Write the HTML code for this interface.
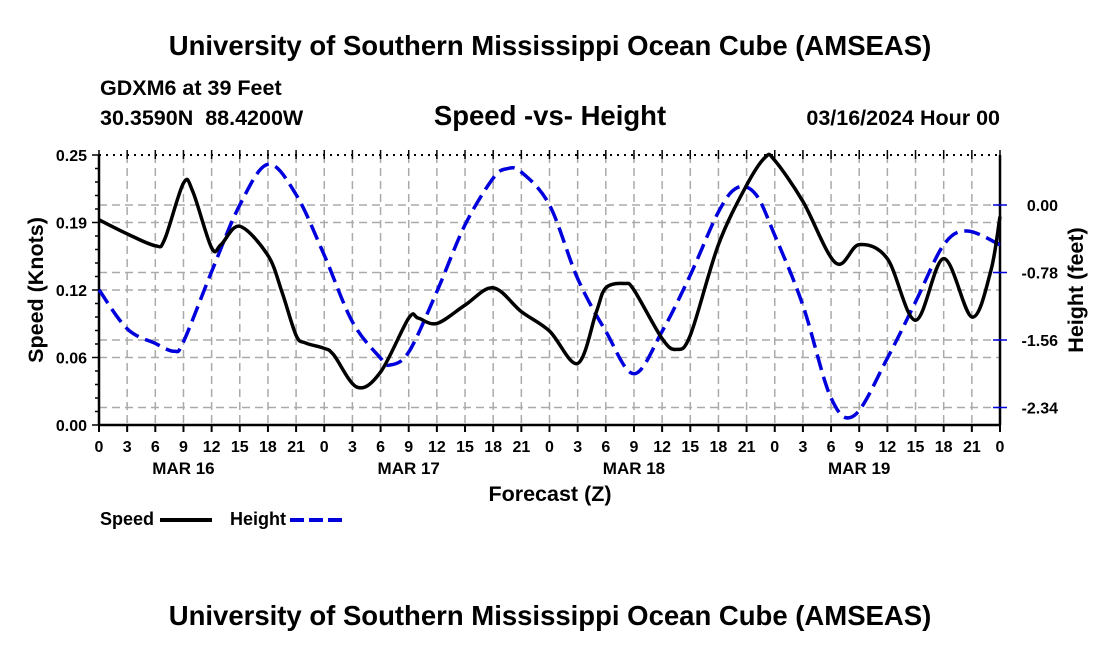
<!DOCTYPE html>
<html><head><meta charset="utf-8"><style>
body{margin:0;background:#fff;}
svg text{font-family:"Liberation Sans",Arial,sans-serif;font-weight:bold;fill:#000;white-space:pre;}
</style></head><body>
<svg id="chart" width="1100" height="650" xmlns="http://www.w3.org/2000/svg">
<text x="550" y="55" text-anchor="middle" font-size="27.5">University of Southern Mississippi Ocean Cube (AMSEAS)</text>
<text x="100" y="95" font-size="21.5">GDXM6 at 39 Feet</text>
<text x="100" y="125" font-size="21.5">30.3590N  88.4200W</text>
<text x="550" y="125" text-anchor="middle" font-size="27.5">Speed -vs- Height</text>
<text x="1000" y="125" text-anchor="end" font-size="21.5">03/16/2024 Hour 00</text>
<text transform="translate(43,290) rotate(-90)" text-anchor="middle" font-size="21.5">Speed (Knots)</text>
<text transform="translate(1083,290) rotate(-90)" text-anchor="middle" font-size="21.5">Height (feet)</text>
<text x="550" y="501" text-anchor="middle" font-size="21.5">Forecast (Z)</text>
<text x="550" y="625" text-anchor="middle" font-size="27.5">University of Southern Mississippi Ocean Cube (AMSEAS)</text>
<g>
<text x="100" y="525" font-size="18">Speed</text>
<line x1="160" y1="520" x2="212" y2="520" stroke="#000" stroke-width="4"/>
<text x="230" y="525" font-size="18">Height</text>
<line x1="290" y1="520" x2="342" y2="520" stroke="#0000dd" stroke-width="4" stroke-dasharray="14,5"/>
</g>
<g id="plot"></g>
</svg>
<script>
const speedHours=[0,3,6,7,9,10,12,13,15,18,19.5,21,22,24,25,27.5,30,33,34,36,39,42,45,48,51,53,54,56,57,60,61.5,63,66,69,71,72,75,78.5,81,84,87,90,93,95,96];
const speedVals=[.190,.177,.166,.172,.224,.216,.164,.167,.184,.157,.123,.083,.076,.071,.065,.035,.049,.099,.099,.094,.111,.127,.105,.087,.057,.105,.127,.131,.125,.080,.070,.083,.167,.222,.248,.245,.207,.150,.167,.154,.097,.154,.100,.142,.193];
const heightHours=[0,3,6,8,9,12,15,18,21,24,27,30,31,33,36,39,42,43.5,45,48,51,54,57,60,63,66,68,70,72,75,78,80.5,84,87,90,92.5,96];
const heightVals=[-0.98,-1.43,-1.60,-1.69,-1.58,-0.77,0,0.47,0.12,-0.58,-1.35,-1.77,-1.85,-1.70,-1.00,-0.23,0.31,0.42,0.38,0.0,-0.85,-1.46,-1.95,-1.46,-0.81,-0.08,0.2,0.12,-0.35,-1.16,-2.23,-2.43,-1.77,-1.12,-0.46,-0.30,-0.46];
const xTickLabels=["0","3","6","9","12","15","18","21"];
const dayLabels=["MAR 16","MAR 17","MAR 18","MAR 19"];
const leftTicks=[0,0.0625,0.125,0.1875,0.25];
const leftTickLabels=["0.00","0.06","0.12","0.19","0.25"];
const rightTicks=[0,-0.78,-1.56,-2.34];
const rightTickLabels=["0.00","-0.78","-1.56","-2.34"];
const PL=99,PR=1000,PT=155,PB=425;
const xs=h=>PL+(PR-PL)*h/96;
const yL=v=>PB-(PB-PT)*v/0.25;
const yR=v=>205-v*86.54;
const NS="http://www.w3.org/2000/svg";
const g=document.getElementById('plot');
function mk(tag,attrs){const e=document.createElementNS(NS,tag);for(const k in attrs)e.setAttribute(k,attrs[k]);g.appendChild(e);return e;}
for(let i=1;i<32;i++){const e=mk('line',{x1:xs(i*3),x2:xs(i*3),y1:PT,y2:PB,stroke:'#aaa','stroke-width':1.5,'stroke-dasharray':'8,5'});

}
leftTicks.slice(1,4).forEach(v=>{const e=mk('line',{x1:PL,x2:PR,y1:yL(v),y2:yL(v),stroke:'#aaa','stroke-width':1.5,'stroke-dasharray':'8,5'});

});
rightTicks.forEach(v=>{const e=mk('line',{x1:PL,x2:PR,y1:yR(v),y2:yR(v),stroke:'#aaa','stroke-width':1.5,'stroke-dasharray':'8,5'});

});
[[PL,PT,PL,PB],[PR,PT,PR,PB],[PL,PB,PR,PB]].forEach(a=>{const e=mk('line',{x1:a[0],y1:a[1],x2:a[2],y2:a[3],stroke:'#000','stroke-width':2.5});

});
const topBorder=mk('line',{x1:PL,y1:PT,x2:PR,y2:PT,stroke:'#000','stroke-width':2,'stroke-dasharray':'2,5'});


for(let i=0;i<=32;i++){const x=xs(i*3);
const t=mk('line',{x1:x,x2:x,y1:PB,y2:PB+7,stroke:'#000','stroke-width':2});


const t2=mk('line',{x1:x,x2:x,y1:PT-5,y2:PT+4,stroke:'#000','stroke-width':1.5});


const lb=mk('text',{x:x,y:452,'text-anchor':'middle','font-size':16});lb.textContent=xTickLabels[i%8];

}
dayLabels.forEach((d,i)=>{const lb=mk('text',{x:xs(9+24*i),y:474,'text-anchor':'middle','font-size':17});lb.textContent=d;

});
for(let i=0;i<=20;i++){const y=yL(i*0.0125);const e=mk('line',{x1:PL-(i%5==0?7:4),x2:PL,y1:y,y2:y,stroke:'#000','stroke-width':1.5});

}
leftTicks.forEach((v,i)=>{const lb=mk('text',{x:PL-12,y:yL(v)+6,'text-anchor':'end','font-size':16});lb.textContent=leftTickLabels[i];

});
rightTicks.forEach((v,i)=>{const e=mk('line',{x1:PR-7,x2:PR+7,y1:yR(v),y2:yR(v),stroke:'#0000dd','stroke-width':1.5});


const lb=mk('text',{x:PR+58,y:yR(v)+6,'text-anchor':'end','font-size':16});lb.textContent=rightTickLabels[i];

});
function spline(pts){let d=`M${pts[0][0]},${pts[0][1]}`;
for(let i=0;i<pts.length-1;i++){const p0=pts[Math.max(0,i-1)],p1=pts[i],p2=pts[i+1],p3=pts[Math.min(pts.length-1,i+2)];
d+=` C${p1[0]+(p2[0]-p0[0])/6},${p1[1]+(p2[1]-p0[1])/6} ${p2[0]-(p3[0]-p1[0])/6},${p2[1]-(p3[1]-p1[1])/6} ${p2[0]},${p2[1]}`;}
return d;}
const hp=mk('path',{d:spline(heightHours.map((h,i)=>[xs(h),yR(heightVals[i])])),fill:'none',stroke:'#0000dd','stroke-width':3.5,'stroke-dasharray':'16,7'});


const sp=mk('path',{d:spline(speedHours.map((h,i)=>[xs(h),yL(speedVals[i])])),fill:'none',stroke:'#000','stroke-width':3.5});


</script>
</body></html>
